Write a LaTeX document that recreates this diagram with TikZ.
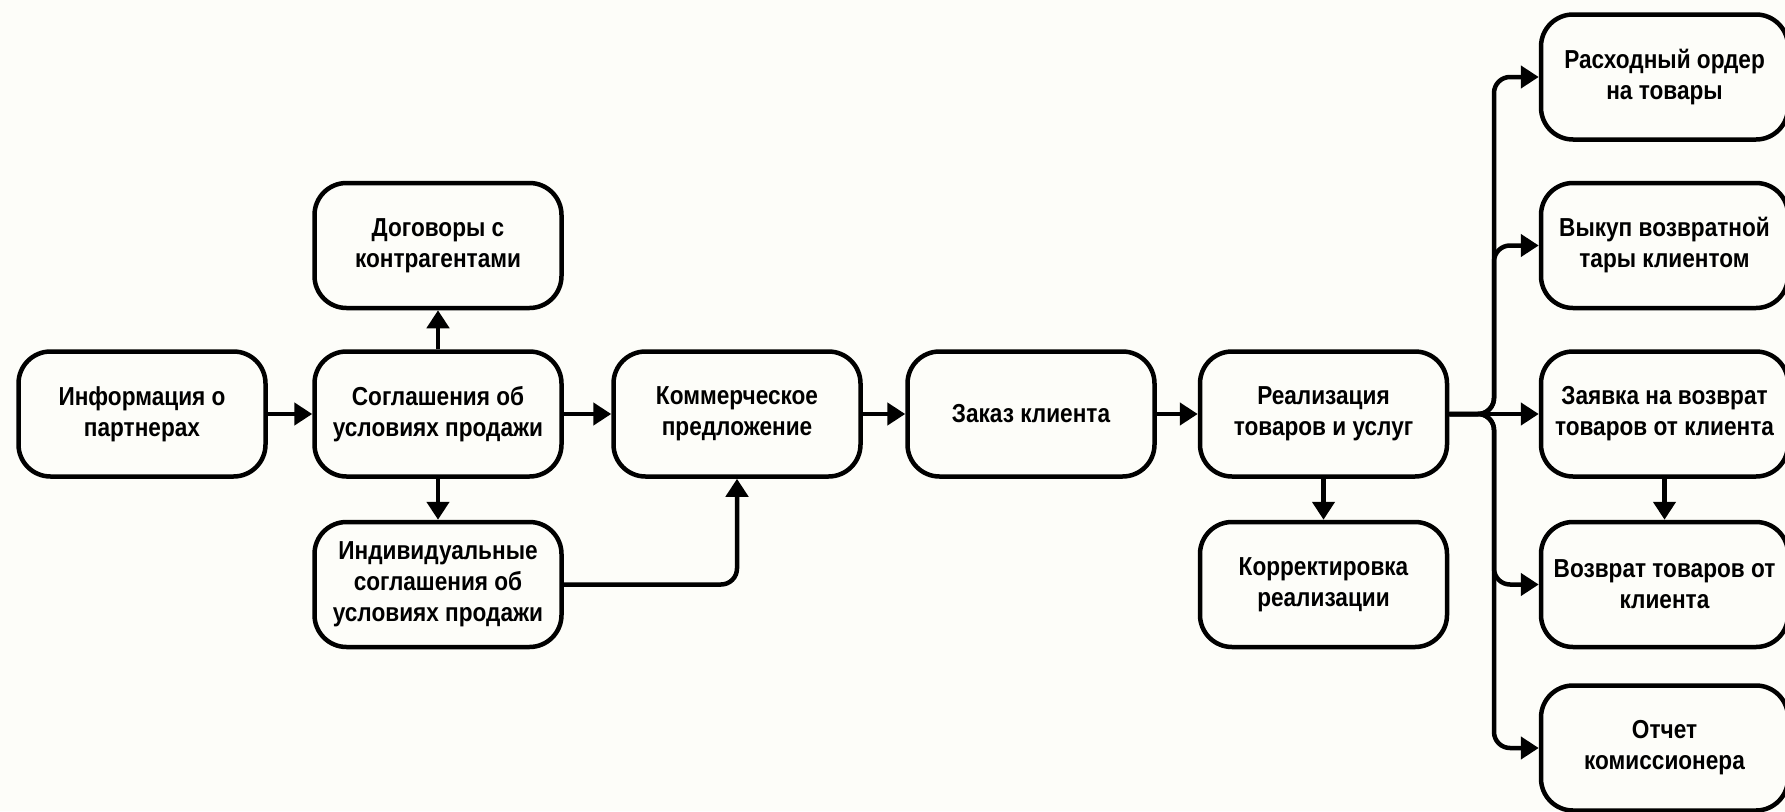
\documentclass[tikz,border=0pt]{standalone}
\usepackage{fontspec}
\setmainfont{Liberation Sans}[FakeStretch=0.87]
\usetikzlibrary{arrows.meta}
\definecolor{bg}{RGB}{253,253,249}
\begin{document}
\begin{tikzpicture}[x=1pt,y=-1pt,
  box/.style={draw, line width=4.5pt, rounded corners=32pt, fill=bg,
    minimum width=247pt, minimum height=125pt, inner sep=0pt, align=center,
    font=\fontsize{26}{31}\selectfont\bfseries},
  conn/.style={line width=4.5pt, -{Triangle[length=18pt,width=22pt]}, rounded corners=16pt}]
\useasboundingbox (0,0) rectangle (1785,811);
\fill[bg] (0,0) rectangle (1785,811);
\clip (0,0) rectangle (1785,811);
% nodes
\node[box] (info) at (142,414) {Информация о\\партнерах};
\node[box] (sogl) at (438,414) {Соглашения об\\условиях продажи};
\node[box] (dog)  at (438,245.5) {Договоры с\\контрагентами};
\node[box] (ind)  at (438,584.5) {Индивидуальные\\соглашения об\\условиях продажи};
\node[box] (komm) at (737,414) {Коммерческое\\предложение};
\node[box] (zak)  at (1031,414) {Заказ клиента};
\node[box] (real) at (1323.5,414) {Реализация\\товаров и услуг};
\node[box] (korr) at (1323.5,584.5) {Корректировка\\реализации};
\node[box] (ras)  at (1664.5,77) {Расходный ордер\\на товары};
\node[box] (vyk)  at (1664.5,245.5) {Выкуп возвратной\\тары клиентом};
\node[box] (zay)  at (1664.5,414) {Заявка на возврат\\товаров от клиента};
\node[box] (voz)  at (1664.5,584.5) {Возврат товаров от\\клиента};
\node[box] (otch) at (1664.5,748) {Отчет\\комиссионера};
\coordinate (fan) at (1494,414);
% connectors
\draw[conn] (info) -- (sogl);
\draw[conn] (sogl) -- (dog);
\draw[conn] (sogl) -- (ind);
\draw[conn] (sogl) -- (komm);
\draw[conn] (ind.east) -| (komm.south);
\draw[conn] (komm) -- (zak);
\draw[conn] (zak) -- (real);
\draw[conn] (real) -- (korr);
\draw[conn] (real) -- (zay);
\draw[conn] (zay) -- (voz);
\draw[conn] (real.east) -- (fan) |- (ras.west);
\draw[conn] (real.east) -- (fan) |- (vyk.west);
\draw[conn] (real.east) -- (fan) |- (voz.west);
\draw[conn] (real.east) -- (fan) |- (otch.west);
\end{tikzpicture}
\end{document}
